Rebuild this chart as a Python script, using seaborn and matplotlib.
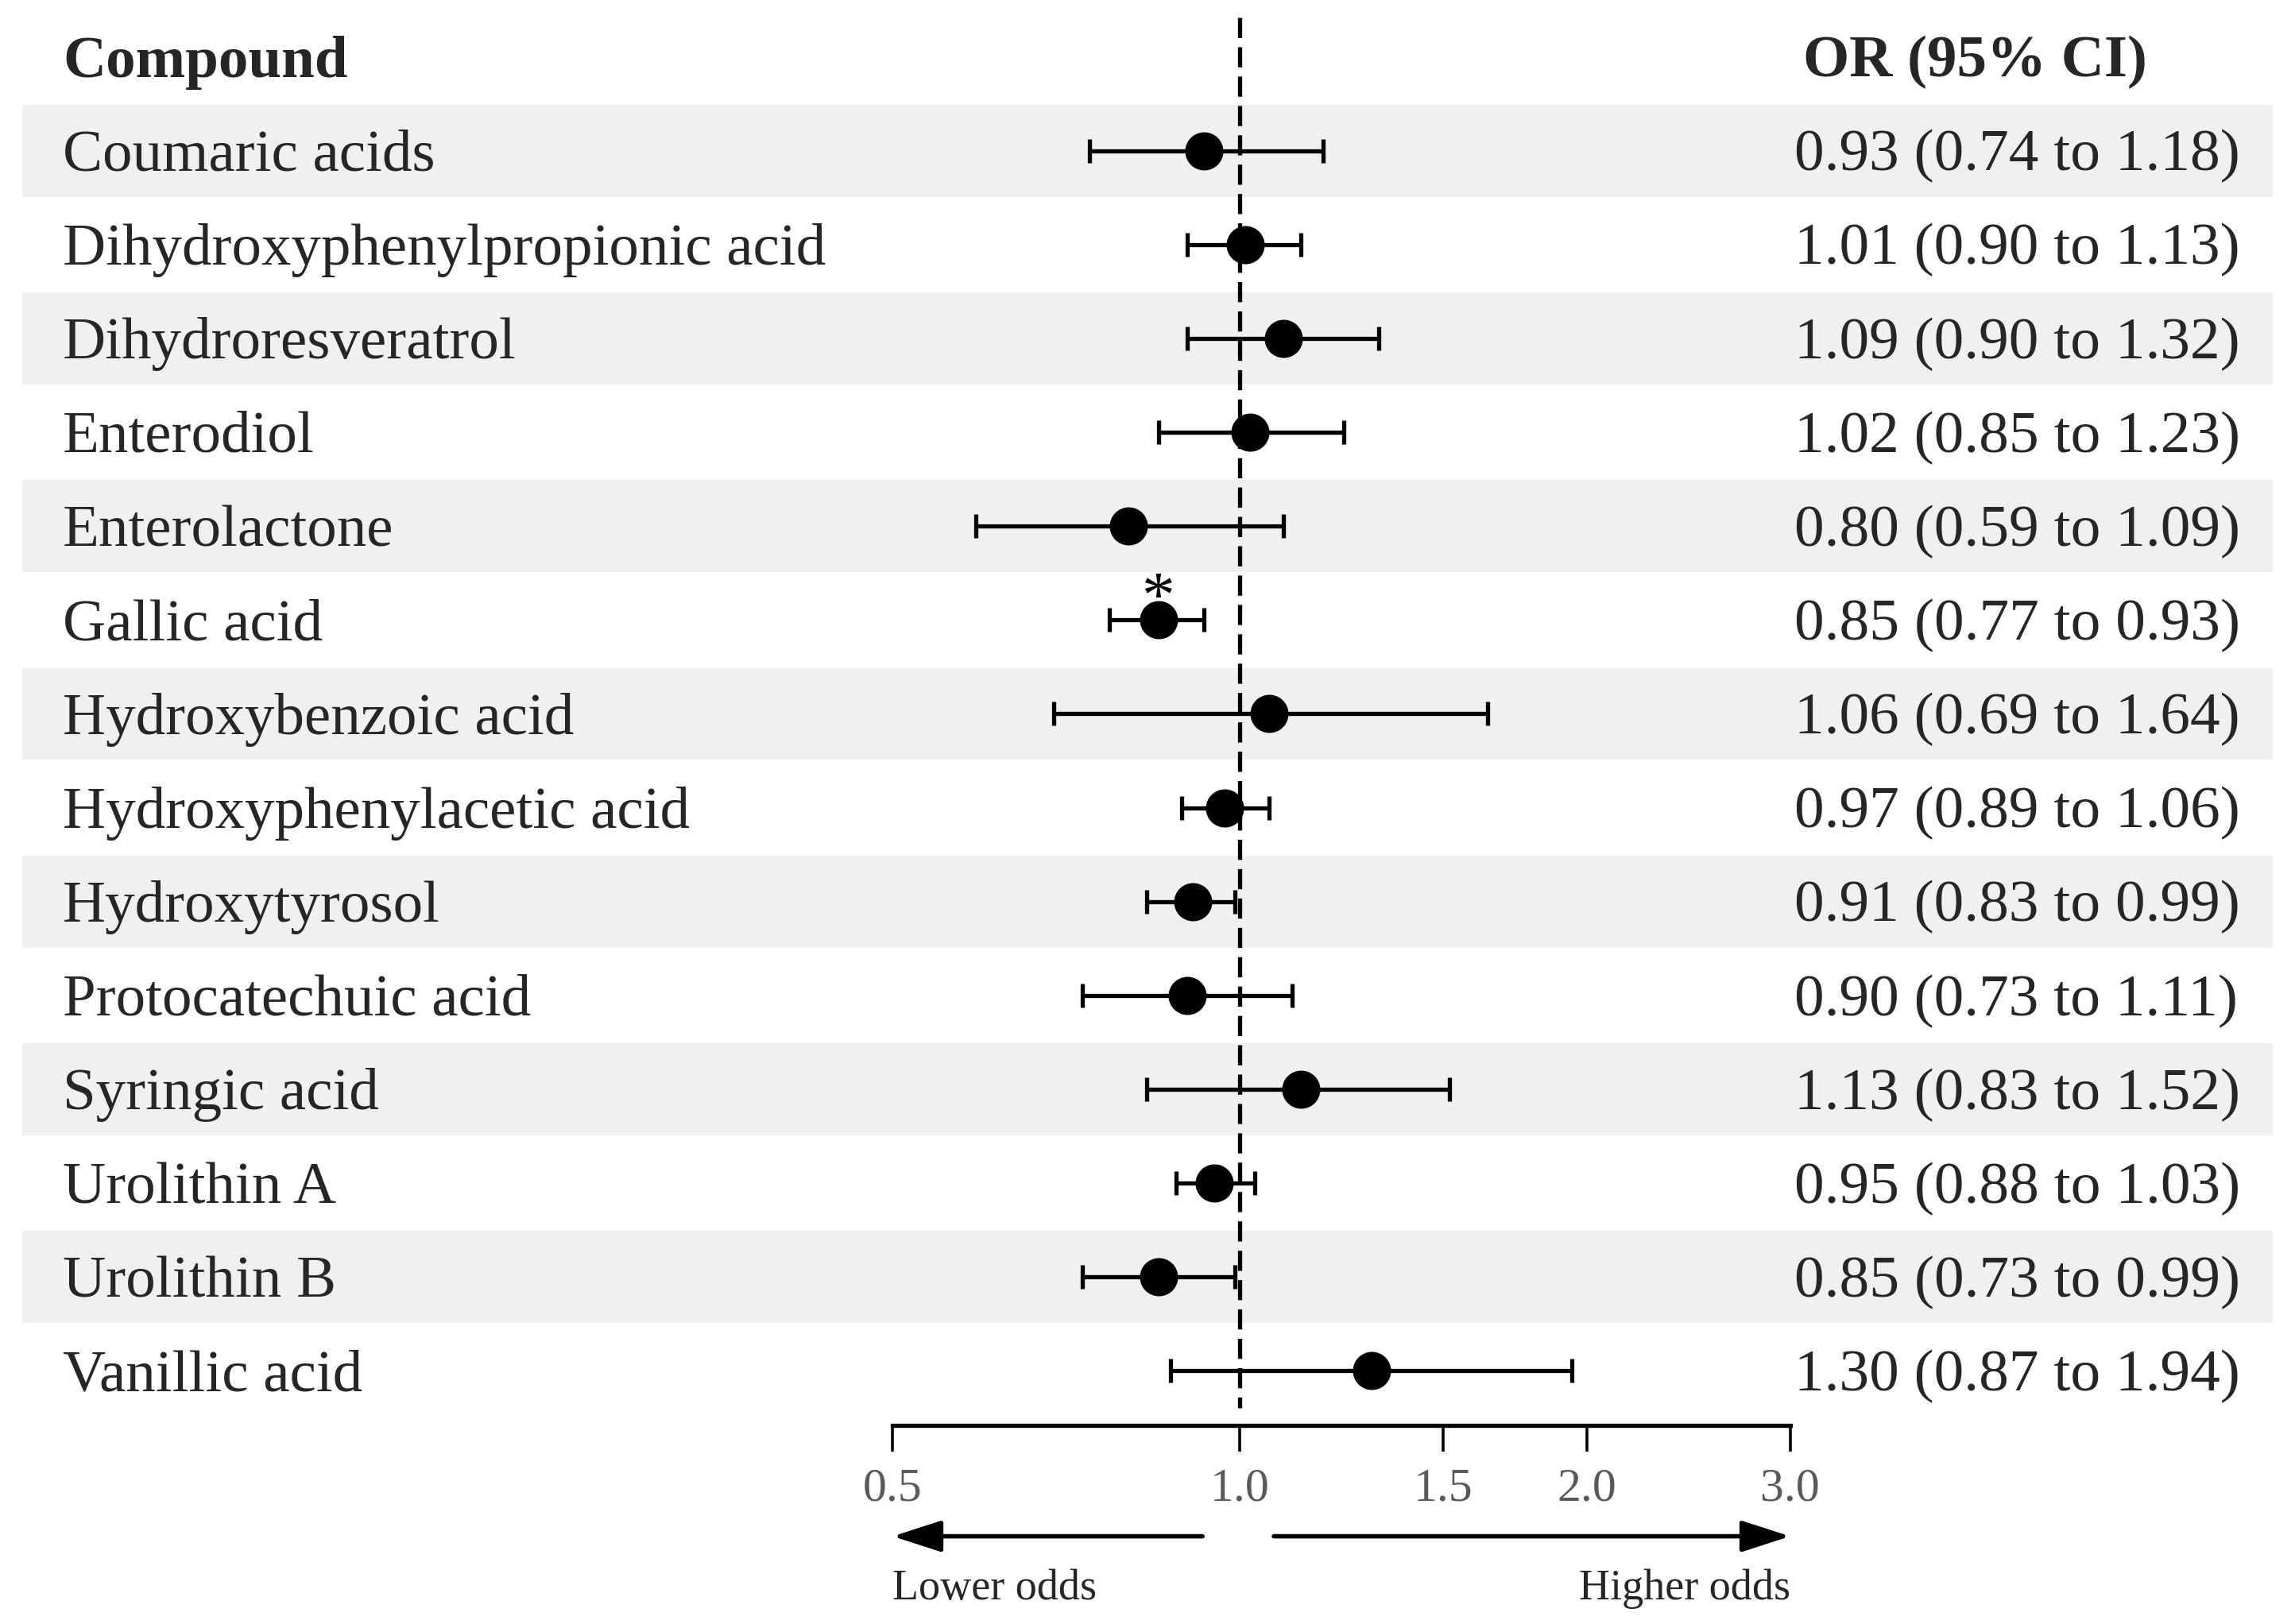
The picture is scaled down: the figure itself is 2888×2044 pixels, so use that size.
import numpy as np
import pandas as pd
import matplotlib
matplotlib.use("Agg")
import matplotlib.pyplot as plt
from matplotlib.patches import Rectangle
from matplotlib.transforms import blended_transform_factory
import seaborn as sns

compounds = ["Coumaric acids", "Dihydroxyphenylpropionic acid", "Dihydroresveratrol",
             "Enterodiol", "Enterolactone", "Gallic acid", "Hydroxybenzoic acid",
             "Hydroxyphenylacetic acid", "Hydroxytyrosol", "Protocatechuic acid",
             "Syringic acid", "Urolithin A", "Urolithin B", "Vanillic acid"]
odds_ratio = [0.93, 1.01, 1.09, 1.02, 0.80, 0.85, 1.06, 0.97, 0.91, 0.90, 1.13, 0.95, 0.85, 1.30]
ci_low = [0.74, 0.90, 0.90, 0.85, 0.59, 0.77, 0.69, 0.89, 0.83, 0.73, 0.83, 0.88, 0.73, 0.87]
ci_high = [1.18, 1.13, 1.32, 1.23, 1.09, 0.93, 1.64, 1.06, 0.99, 1.11, 1.52, 1.03, 0.99, 1.94]
significant = [False, False, False, False, False, True, False, False, False, False, False, False, False, False]
tick_values = [0.5, 1.0, 1.5, 2.0, 3.0]
tick_labels = ["0.5", "1.0", "1.5", "2.0", "3.0"]

df = pd.DataFrame({"compound": compounds, "OR": odds_ratio, "lo": ci_low, "hi": ci_high,
                   "sig": significant})
df["row"] = np.arange(len(df))

sns.set_theme(style="white")
plt.rcParams["font.family"] = ["Liberation Serif", "DejaVu Serif"]

fig = plt.figure(figsize=(28.88, 20.44), dpi=100)
ax = fig.add_axes([0.389, 0.1225, 0.391, 0.8714])
ax.set_facecolor("none")
ax.set_xscale("log")
ax.set_xlim(0.5, 3.0)
ax.set_ylim(13.577, -1.5)

mix = blended_transform_factory(fig.transFigure, ax.transData)

# background bands
for r in df["row"]:
    if r % 2 == 0:
        rect = Rectangle((0.0096, r - 0.49), 0.9808, 0.98, transform=mix,
                         facecolor="#eff1f0", edgecolor="none", zorder=0, clip_on=False)
        ax.add_patch(rect)

# reference line
ax.plot([1.0, 1.0], [-1.42, 13.39], color="black", lw=3.8, ls=(0, (4.8, 2.2)),
        zorder=2, clip_on=False)

# CIs
xerr = np.vstack([df["OR"] - df["lo"], df["hi"] - df["OR"]])
ax.errorbar(df["OR"], df["row"], xerr=xerr, fmt="none", ecolor="black",
            elinewidth=3.8, capsize=11, capthick=3.8, zorder=3)
sns.scatterplot(data=df, x="OR", y="row", ax=ax, color="black", edgecolor="black",
                s=32 ** 2, marker="o", zorder=4, legend=False)

for _, rw in df[df["sig"]].iterrows():
    ax.text(rw["OR"], rw["row"] - 0.2, "*", ha="center", va="center", fontsize=60,
            color="black", zorder=5)

# text columns
dy = 0.06
ax.text(0.0274, -1 + dy, "Compound", transform=mix, ha="left", va="center",
        fontsize=54, fontweight="bold")
ax.text(0.7855, -1 + dy, "OR (95% CI)", transform=mix, ha="left", va="center",
        fontsize=54, fontweight="bold")
for _, rw in df.iterrows():
    ax.text(0.0274, rw["row"] + dy, rw["compound"], transform=mix, ha="left", va="center",
            fontsize=54)
    ax.text(0.7817, rw["row"] + dy, f"{rw['OR']:.2f} ({rw['lo']:.2f} to {rw['hi']:.2f})",
            transform=mix, ha="left", va="center", fontsize=54.3)

# axis styling
for s in ["left", "top", "right"]:
    ax.spines[s].set_visible(False)
ax.spines["bottom"].set_linewidth(3.8)
ax.spines["bottom"].set_color("black")
ax.set_yticks([])
ax.set_xticks(tick_values)
ax.set_xticklabels(tick_labels)
ax.xaxis.set_minor_locator(matplotlib.ticker.NullLocator())
ax.tick_params(axis="x", which="major", direction="out", length=24, width=2.6,
               color="black", labelsize=43, labelcolor="#595959", pad=15, bottom=True)
ax.set_xlabel("")
ax.set_ylabel("")

# direction arrows
xa = blended_transform_factory(ax.transData, ax.transAxes)
astyle = dict(arrowstyle="-|>,head_length=1.7,head_width=0.55", lw=4.0, color="black",
              mutation_scale=22, shrinkA=0, shrinkB=0)
ax.annotate("", xy=(0.5, -0.0786), xytext=(0.928, -0.0786), xycoords=xa,
            textcoords=xa, arrowprops=astyle, annotation_clip=False)
ax.annotate("", xy=(3.0, -0.0786), xytext=(1.07, -0.0786), xycoords=xa,
            textcoords=xa, arrowprops=astyle, annotation_clip=False)
ax.text(0.5, -0.1155, "Lower odds", transform=xa, ha="left", va="center", fontsize=39)
ax.text(3.0, -0.1155, "Higher odds", transform=xa, ha="right", va="center", fontsize=39)

fig.savefig("out.png", dpi=100)
